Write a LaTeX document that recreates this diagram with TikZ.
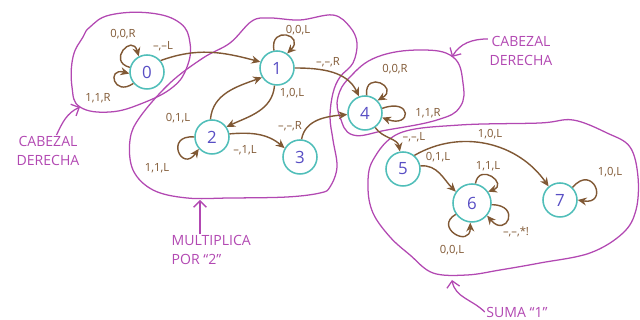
\documentclass[tikz,border=0pt]{standalone}
\usepackage{fontspec}
\setmainfont{Open Sans}
\usetikzlibrary{arrows.meta}

\definecolor{inkbrown}{RGB}{128,88,52}
\definecolor{ringteal}{RGB}{80,190,185}
\definecolor{numblue}{RGB}{88,78,196}
\definecolor{markpurple}{RGB}{178,72,178}

\begin{document}
\begin{tikzpicture}[
    state/.style={circle, draw=ringteal, line width=1.1pt, minimum size=0.85cm, inner sep=0pt, text=numblue, font=\fontsize{12}{12}\selectfont},
    trans/.style={inkbrown, line width=1pt, -{Stealth[length=2.2mm, width=2mm]}},
    lbl/.style={text=inkbrown, inner sep=1pt, font=\fontsize{8}{8}\selectfont},
    region/.style={markpurple, line width=0.9pt},
    note/.style={text=markpurple, inner sep=1pt, font=\fontsize{10}{13}\selectfont},
    pointer/.style={markpurple, line width=0.9pt, -{Straight Barb[length=1.6mm]}}
]
    % One unit is one pixel of the 640 x 320 sketch
    \begin{scope}[x=0.025cm, y=0.025cm]
        \useasboundingbox (0,0) rectangle (640,320);

        % Regions drawn round groups of states
        \draw[region] plot[smooth cycle, tension=0.7] coordinates {(90,293) (110,305) (150,307) (180,297) (190,277) (187,253) (173,233) (143,217) (110,208) (80,213) (72,233) (73,263) (83,283)};
        \draw[region] plot[smooth cycle, tension=0.6] coordinates {(252,299) (270,302) (300,300) (333,305) (350,293) (357,277) (353,257) (340,243) (333,227) (330,203) (333,180) (337,153) (330,133) (320,127) (287,123) (230,122) (187,122) (153,130) (133,150) (130,180) (140,203) (170,237) (203,262) (230,277)};
        \draw[region] plot[smooth cycle, tension=0.7] coordinates {(377,263) (420,270) (453,263) (463,237) (460,213) (437,200) (387,190) (353,185) (340,203) (338,223) (350,243)};
        \draw[region] plot[smooth cycle, tension=0.6] coordinates {(400,187) (460,195) (540,197) (573,200) (607,187) (630,173) (638,143) (636,110) (623,87) (590,67) (540,57) (500,50) (467,45) (433,47) (410,65) (390,83) (373,107) (368,133) (373,160)};

        % States
        \node[state] (s0) at (147,248) {0};
        \node[state] (s1) at (277,252) {1};
        \node[state] (s2) at (212,183) {2};
        \node[state] (s3) at (300,163) {3};
        \node[state] (s4) at (365,207) {4};
        \node[state] (s5) at (403,151) {5};
        \node[state, minimum size=0.95cm] (s6) at (472,117) {6};
        \node[state] (s7) at (560,120) {7};

        % Self loops
        \draw[trans] (s0.165) .. controls +(165:24) and +(105:24) .. (s0.118);
        \draw[trans] (s0.220) .. controls +(215:24) and +(165:24) .. (s0.185);
        \draw[trans] (s1.100) .. controls +(100:26) and +(45:26) .. (s1.55);
        \draw[trans] (s2.180) .. controls +(175:30) and +(235:30) .. (s2.222);
        \draw[trans] (s4.85) .. controls +(95:26) and +(30:26) .. (s4.45);
        \draw[trans] (s4.15) .. controls +(20:32) and +(-20:32) .. (s4.-15);
        \draw[trans] (s6.80) .. controls +(80:22) and +(20:22) .. (s6.35);
        \draw[trans] (s6.-5) .. controls +(0:30) and +(-50:30) .. (s6.-40);
        \draw[trans] (s6.215) .. controls +(210:26) and +(270:26) .. (s6.265);
        \draw[trans] (s7.45) .. controls +(50:32) and +(-10:32) .. (s7.0);

        % Transitions between states
        \draw[trans] (s0.40) to[out=20, in=165] (s1.160);
        \draw[trans] (s1.0) to[out=0, in=115] (s4.110);
        \draw[trans] (s1.262) to[out=265, in=25] (s2.35);
        \draw[trans] (s2.95) to[out=85, in=200] (s1.212);
        \draw[trans] (s2.10) to[out=5, in=140] (s3.150);
        \draw[trans] (s3.85) to[out=80, in=185] (s4.185);
        \draw[trans] (s4.-55) to[out=-55, in=100] (s5.100);
        \draw[trans] (s5.10) to[out=5, in=135] (s6.145);
        \draw[trans] (s5.50) to[out=30, in=125] (s7.130);

        % Transition labels
        \node[lbl] (l0a) at (123,286) {0,0,R};
        \node[lbl] (l0b) at (98,222) {1,1,R};
        \node[lbl] (l01) at (163,274) {\textendash,\textendash L};
        \node[lbl] (l1a) at (298,290) {0,0,L};
        \node[lbl] (l14) at (328,258) {\textendash,\textendash,R};
        \node[lbl] (l12) at (292,227) {1,0,L};
        \node[lbl] (l21) at (178,202) {0,1,L};
        \node[lbl] (l2a) at (157,152) {1,1,L};
        \node[lbl] (l23) at (245,170) {\textendash,1,L};
        \node[lbl] (l34) at (290,194) {\textendash,\textendash,R};
        \node[lbl] (l4a) at (395,251) {0,0,R};
        \node[lbl] (l4b) at (428,207) {1,1,R};
        \node[lbl] (l45) at (414,183) {\textendash,\textendash,L};
        \node[lbl] (l56) at (438,163) {0,1,L};
        \node[lbl] (l57) at (490,186) {1,0,L};
        \node[lbl] (l6a) at (488,154) {1,1,L};
        \node[lbl] (l6b) at (516,88) {\textendash,\textendash,*!};
        \node[lbl] (l6c) at (452,70) {0,0,L};
        \node[lbl] (l7a) at (610,148) {1,0,L};

        % Notes on the regions
        \node[note, align=center] (cab1) at (48,169) {CABEZAL\\DERECHA};
        \node[note, align=center] (cab2) at (521,269) {CABEZAL\\DERECHA};
        \node[note, align=left, anchor=west] (mul) at (170,70) {MULTIPLICA\\POR \textquotedblleft2\textquotedblright};
        \node[note] (suma) at (517,8) {SUMA \textquotedblleft1\textquotedblright};
        \coordinate (b0tip) at (80,213);
        \coordinate (b4tip) at (452,263);
        \coordinate (b2tip) at (200,120);
        \coordinate (b5tip) at (452,40);
        \draw[pointer] (cab1.62) to[out=65, in=205] (b0tip);
        \draw[pointer] (cab2.160) to[out=180, in=60] (b4tip);
        \draw[pointer] (mul.north -| b2tip) -- (b2tip);
        \draw[pointer] (suma.west) to[out=135, in=-80] (b5tip);
    \end{scope}
\end{tikzpicture}
\end{document}
